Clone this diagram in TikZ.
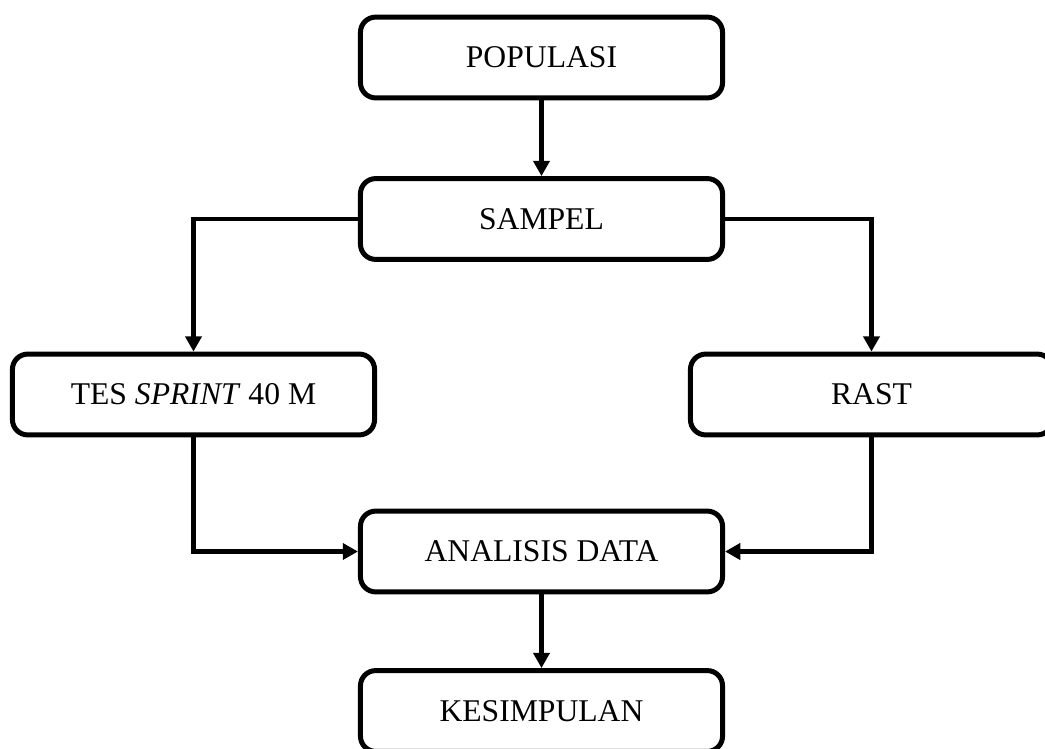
\documentclass[tikz,border=0pt]{standalone}
\usepackage{fontspec}
\setmainfont{Liberation Serif}
\usepackage{tikz}
\usetikzlibrary{arrows.meta}
\tikzset{
  >={Triangle[length=0.38cm,width=0.4cm]},
}
\tikzstyle{box}=[draw,line width=0.125cm,rounded corners=0.38cm,
  minimum width=9.05cm,minimum height=2.02cm,inner sep=0pt,
  font=\fontsize{22.5}{27}\selectfont]
\tikzstyle{flow}=[line width=0.12cm,->]

\begin{document}
\begin{tikzpicture}[x=0.025cm,y=-0.025cm]
      \useasboundingbox (0,0) rectangle (1045,749);
      \node[box] (pop) at (541.5,57.5) {POPULASI};
      \node[box] (sam) at (541.5,219) {SAMPEL};
      \node[box] (tes) at (193.5,394.5) {TES \textit{SPRINT} 40 M};
      \node[box] (rast) at (871.5,394.5) {RAST};
      \node[box] (ana) at (541.5,551.5) {ANALISIS DATA};
      \node[box] (kes) at (541.5,711) {KESIMPULAN};
      \draw[flow] (pop)--(sam);
      \draw[flow] (sam.west)-|(tes.north);
      \draw[flow] (sam.east)-|(rast.north);
      \draw[flow] (tes.south)|-(ana.west);
      \draw[flow] (rast.south)|-(ana.east);
      \draw[flow] (ana)--(kes);
    \end{tikzpicture}
\end{document}
